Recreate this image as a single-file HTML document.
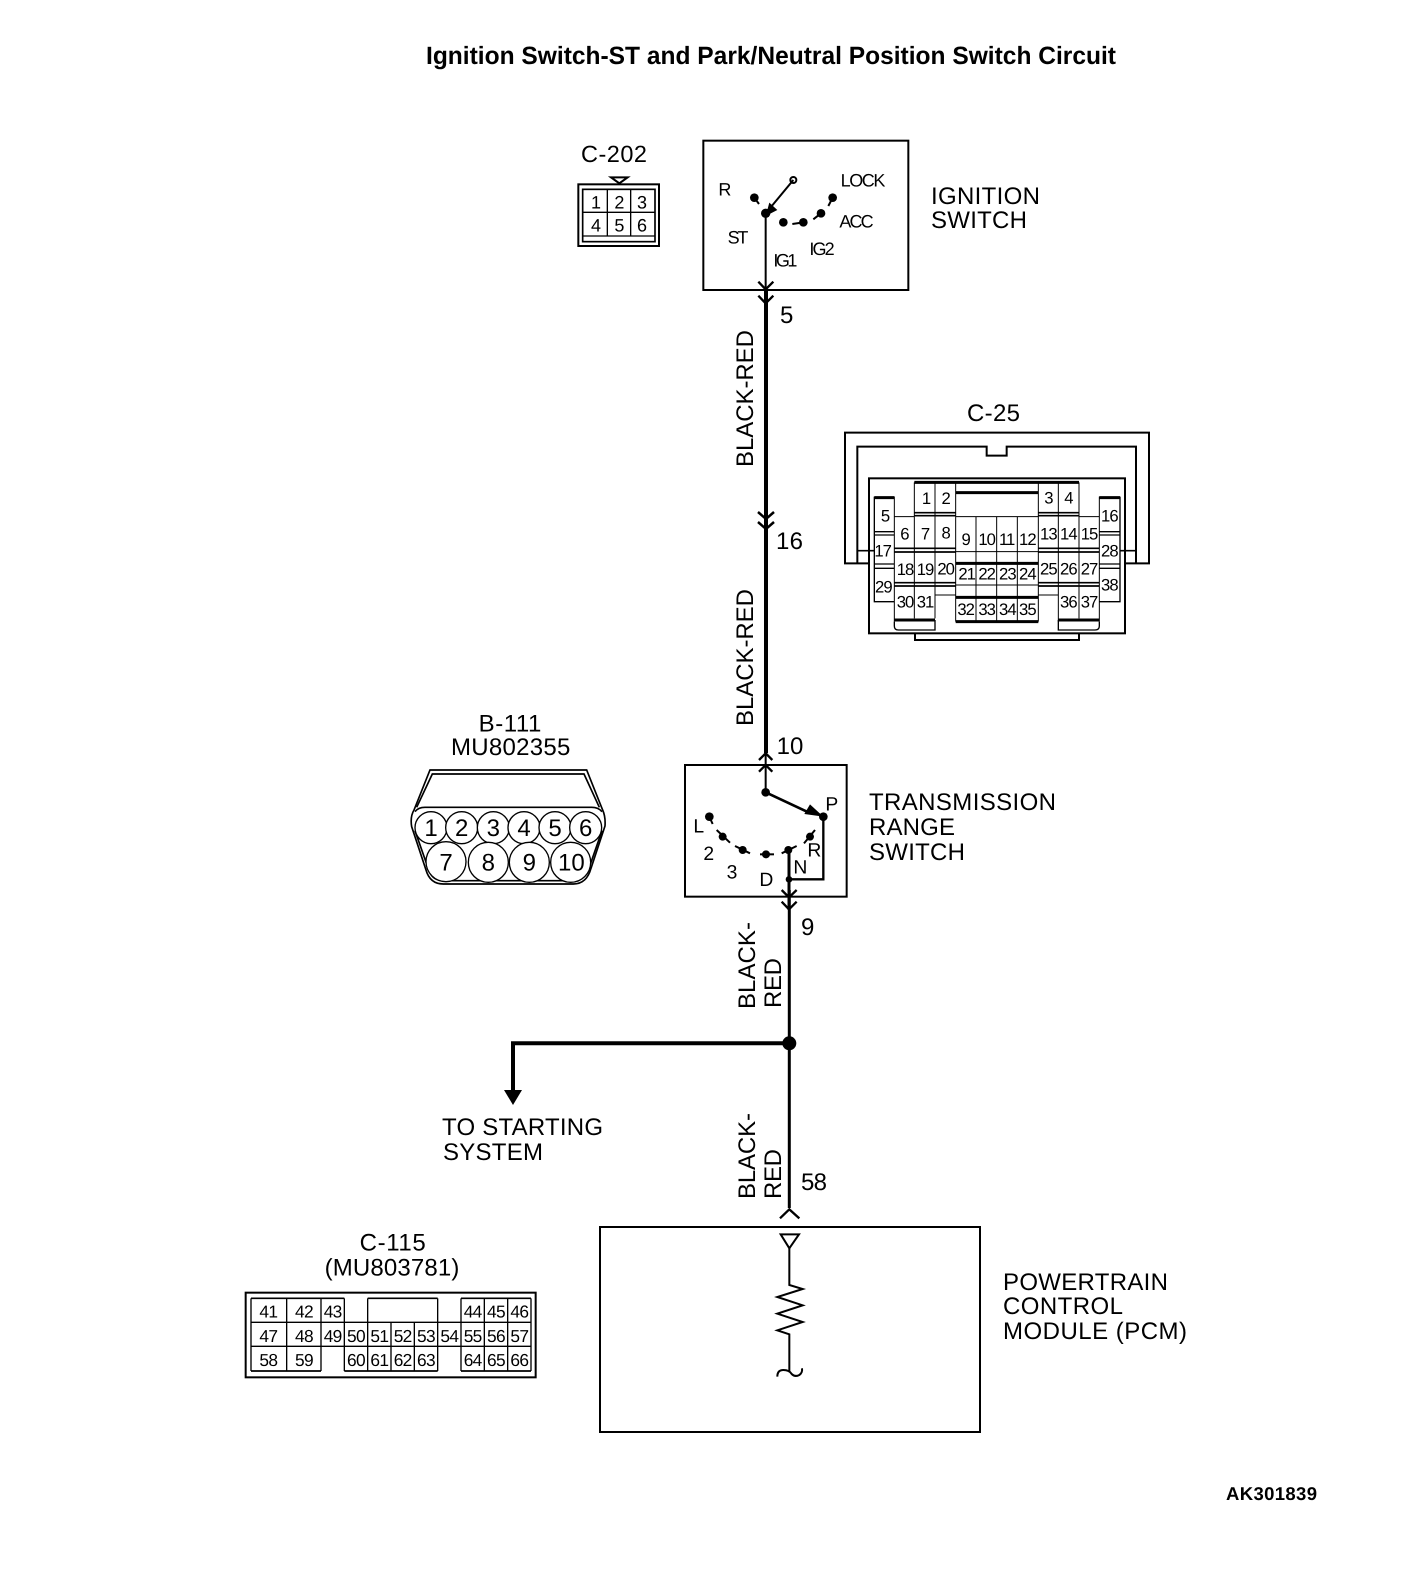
<!DOCTYPE html>
<html>
<head>
<meta charset="utf-8">
<style>
html,body{margin:0;padding:0;background:#fff;}
svg{display:block;}
text{font-family:"Liberation Sans",sans-serif;fill:#000;stroke:none;text-rendering:geometricPrecision;}
.s{fill:none;stroke:#000;}
.c25 text{font-size:50px;letter-spacing:-3px;text-anchor:middle;}
.c115 text{font-size:52px;letter-spacing:-2px;text-anchor:middle;}
.b111 text{font-size:72px;text-anchor:middle;}
</style>
</head>
<body>
<svg width="1408" height="1586" viewBox="0 0 1408 1586" xmlns="http://www.w3.org/2000/svg">
<rect width="1408" height="1586" fill="#fff"/>

<text x="426" y="64" font-size="25" font-weight="bold" textLength="690" lengthAdjust="spacingAndGlyphs">Ignition Switch-ST and Park/Neutral Position Switch Circuit</text>
<text x="1226" y="1500" font-size="18.5" font-weight="bold" textLength="91">AK301839</text>

<!-- main wires -->
<g class="s">
<path d="M766,290V753" stroke-width="4"/>
<path d="M758,512L766,519L774,512M758,522L766,529L774,522" stroke-width="2.5"/>
<path d="M789.3,890V1208" stroke-width="3"/>
<path d="M789.3,1043.3H513V1092" stroke-width="4"/>
</g>
<circle cx="789.3" cy="1043.3" r="7"/>
<polygon points="504,1090 522,1090 513,1105"/>

<text x="780" y="323" font-size="24">5</text>
<text x="776" y="549" font-size="24" textLength="27">16</text>
<text x="801" y="935" font-size="24">9</text>
<text x="801" y="1190" font-size="24" textLength="26">58</text>

<text transform="translate(753,467) rotate(-90)" font-size="24" textLength="137">BLACK-RED</text>
<text transform="translate(753,726) rotate(-90)" font-size="24" textLength="137">BLACK-RED</text>
<text transform="translate(755,1009) rotate(-90)" font-size="24" textLength="87">BLACK-</text>
<text transform="translate(781,1008) rotate(-90)" font-size="24" textLength="50">RED</text>
<text transform="translate(755,1199) rotate(-90)" font-size="24" textLength="86">BLACK-</text>
<text transform="translate(781,1199) rotate(-90)" font-size="24" textLength="50">RED</text>

<text x="442" y="1135" font-size="24" textLength="161">TO STARTING</text>
<text x="443" y="1160" font-size="24" textLength="100">SYSTEM</text>

<text x="931" y="204" font-size="24" textLength="109">IGNITION</text>
<text x="931" y="228" font-size="24" textLength="96">SWITCH</text>

<text x="869" y="810" font-size="24" textLength="187">TRANSMISSION</text>
<text x="869" y="835" font-size="24" textLength="86">RANGE</text>
<text x="869" y="860" font-size="24" textLength="96">SWITCH</text>

<text x="1003" y="1290" font-size="24" textLength="165">POWERTRAIN</text>
<text x="1003" y="1314" font-size="24" textLength="120">CONTROL</text>
<text x="1003" y="1339" font-size="24" textLength="184">MODULE (PCM)</text>

<text x="967" y="421" font-size="24" textLength="53">C-25</text>
<text x="581" y="162" font-size="23.5" textLength="66">C-202</text>

<!-- ignition switch + C-202 -->
<g transform="translate(560,130) scale(0.33333)">
<rect x="430" y="32" width="615" height="448" class="s" stroke-width="6"/>
<path class="s" stroke-width="6" d="M617,250V520"/>
<path class="s" stroke-width="7" d="M595,455L617,478L640,455M595,497L617,520L640,497"/>
<path class="s" stroke-width="6" d="M700,150L617,250"/>
<polygon points="617,258 628,218 652,240"/>
<circle cx="617" cy="250" r="14"/>
<circle cx="700" cy="150" r="9" class="s" stroke-width="6"/>
<circle cx="583" cy="203" r="13"/>
<path class="s" stroke-width="6" d="M583,203L597,222"/>
<circle cx="818" cy="203" r="13"/>
<path class="s" stroke-width="6" d="M818,203L805,228"/>
<circle cx="783" cy="250" r="13"/>
<path class="s" stroke-width="6" d="M783,250L760,268"/>
<circle cx="730" cy="277" r="13"/>
<path class="s" stroke-width="6" d="M730,277L697,282"/>
<circle cx="670" cy="277" r="13"/>
<text x="475" y="196" font-size="54" textLength="37">R</text>
<text x="842" y="170" font-size="54" textLength="134">LOCK</text>
<text x="838" y="293" font-size="54" textLength="103">ACC</text>
<text x="503" y="340" font-size="54" textLength="62">ST</text>
<text x="640" y="410" font-size="54" textLength="72">IG1</text>
<text x="748" y="375" font-size="54" textLength="76">IG2</text>

<rect x="55" y="163" width="242" height="185" class="s" stroke-width="6"/>
<rect x="68" y="178" width="217" height="157" class="s" stroke-width="5"/>
<path class="s" stroke-width="4" d="M68,318H285M68,247H285M142,178V318M212,178V318"/>
<polygon points="153,142 203,142 178,160" class="s" stroke-width="6"/>
<g font-size="54" text-anchor="middle">
<text x="108" y="235">1</text><text x="178" y="235">2</text><text x="246" y="235">3</text>
<text x="108" y="304">4</text><text x="178" y="304">5</text><text x="246" y="304">6</text>
</g>
</g>

<!-- C-25 connector -->
<g class="c25" transform="translate(830,400) scale(0.33333)">
<g class="s">
<path stroke-width="6" d="M117,490H45V98H957V490H885"/>
<path stroke-width="6" d="M82,490V140H470V167H530V140H918V490"/>
<path stroke-width="5" d="M82,452H133M870,452H918"/>
<rect x="117" y="235" width="768" height="465" stroke-width="6"/>
<path stroke-width="6" d="M255,700V720H747V700"/>
<path stroke-width="9" d="M133,293H193M808,293H870M253,247H747M377,278H625M377,490H625M377,592H625M377,665H625M193,660H315M685,660H808"/>
<path stroke-width="4" d="M133,290V605H193M870,290V605H808"/>
<path stroke-width="4" d="M133,395H193M133,405H193M808,395H870M808,405H870"/>
<path stroke-width="4" d="M133,492H193M133,505H193M808,492H870M808,505H870"/>
<path stroke-width="3" d="M193,290V665M253,247V655M315,247V655M808,290V665M747,247V655M685,247V665M625,247V665M377,247V665M438,350V665M500,350V665M562,350V665"/>
<path stroke-width="3" d="M193,350H253M747,350H808M377,350H625M377,455H625M377,555H625M315,585H377M625,585H685"/>
<path stroke-width="5" d="M253,338H377M253,347H377M625,338H747M625,347H747"/>
<path stroke-width="5" d="M193,445H377M193,456H377M625,445H808M625,456H808"/>
<path stroke-width="5" d="M193,548H377M193,558H377M625,548H808M625,558H808"/>
<path stroke-width="4" d="M193,665V678Q193,690 205,690H315V660M685,660V690H795Q808,690 808,678V665"/>
</g>
<text x="288" y="312">1</text><text x="347" y="312">2</text><text x="655" y="310">3</text><text x="715" y="310">4</text>
<text x="165" y="365">5</text><text x="223" y="418">6</text><text x="285" y="418">7</text><text x="347" y="415">8</text>
<text x="407" y="435">9</text><text x="470" y="435">10</text><text x="530" y="435">11</text><text x="592" y="435">12</text>
<text x="655" y="418">13</text><text x="715" y="418">14</text><text x="777" y="418">15</text><text x="838" y="365">16</text>
<text x="158" y="470">17</text><text x="838" y="470">28</text>
<text x="225" y="525">18</text><text x="285" y="525">19</text><text x="347" y="523">20</text>
<text x="410" y="538">21</text><text x="470" y="538">22</text><text x="532" y="538">23</text><text x="592" y="538">24</text>
<text x="655" y="523">25</text><text x="715" y="523">26</text><text x="777" y="523">27</text>
<text x="160" y="578">29</text><text x="838" y="572">38</text>
<text x="225" y="622">30</text><text x="285" y="622">31</text>
<text x="407" y="645">32</text><text x="470" y="645">33</text><text x="532" y="645">34</text><text x="592" y="645">35</text>
<text x="715" y="622">36</text><text x="777" y="622">37</text>
</g>

<!-- B-111 + range switch -->
<g transform="translate(400,700) scale(0.33333)">
<text x="330" y="95" font-size="72" text-anchor="middle" textLength="188">B-111</text>
<text x="332" y="165" font-size="72" text-anchor="middle" textLength="358">MU802355</text>
<g class="b111">
<path class="s" stroke-width="5" d="M90,210H560L608,330Q617,350 615,378L573,505Q560,552 520,552H130Q90,552 78,510L35,380Q30,350 42,330Z"/>
<path class="s" stroke-width="5" d="M50,322L97,222H552L598,322M45,335Q55,322 75,322H575Q595,322 606,335M45,392L88,515Q100,542 130,542H520Q550,542 565,510L606,392"/>
<g fill="#fff" stroke="#000" stroke-width="4">
<circle cx="93" cy="383" r="48"/><circle cx="185" cy="383" r="48"/><circle cx="280" cy="383" r="48"/><circle cx="372" cy="383" r="48"/><circle cx="465" cy="383" r="48"/><circle cx="557" cy="383" r="48"/>
<circle cx="138" cy="485" r="60"/><circle cx="265" cy="487" r="60"/><circle cx="388" cy="487" r="60"/><circle cx="512" cy="487" r="60"/>
</g>
<text x="93" y="408">1</text><text x="185" y="408">2</text><text x="280" y="408">3</text><text x="372" y="408">4</text><text x="465" y="408">5</text><text x="557" y="408">6</text>
<text x="138" y="511">7</text><text x="265" y="511">8</text><text x="388" y="511">9</text><text x="514" y="511" textLength="80">10</text>
</g>

<rect x="855" y="195" width="485" height="395" class="s" stroke-width="6"/>
<path class="s" stroke-width="6" d="M1097,160V277"/>
<path class="s" stroke-width="7" d="M1077,180L1097,160L1117,180M1077,215L1097,195L1117,215"/>
<text x="1130" y="162" font-size="72" textLength="80">10</text>
<path class="s" stroke-width="8" d="M1097,277L1225,337"/>
<polygon points="1270,350 1213,342 1230,313"/>
<circle cx="1097" cy="277" r="13"/>
<circle cx="1270" cy="350" r="13"/>
<path class="s" stroke-width="7" d="M1270,350V538H1167"/>
<path class="s" stroke-width="9" d="M1167,450V630"/>
<path class="s" stroke-width="7" d="M1145,570L1167,592L1190,570M1145,605L1167,628L1190,605"/>
<circle cx="1167" cy="538" r="10"/>
<circle cx="928" cy="350" r="13"/>
<path class="s" stroke-width="6" d="M928,350L938,372"/>
<circle cx="968" cy="410" r="12"/>
<path class="s" stroke-width="6" d="M950,390L990,428"/>
<circle cx="1028" cy="450" r="12"/>
<path class="s" stroke-width="6" d="M1005,438L1050,460"/>
<circle cx="1098" cy="463" r="12"/>
<path class="s" stroke-width="6" d="M1080,463H1122"/>
<circle cx="1165" cy="450" r="12"/>
<path class="s" stroke-width="6" d="M1145,460L1190,438"/>
<circle cx="1230" cy="410" r="12"/>
<path class="s" stroke-width="6" d="M1212,430L1245,390"/>
<text x="1276" y="332" font-size="58">P</text>
<text x="880" y="398" font-size="58">L</text>
<text x="910" y="480" font-size="58">2</text>
<text x="980" y="535" font-size="58">3</text>
<text x="1078" y="558" font-size="58">D</text>
<text x="1180" y="520" font-size="58">N</text>
<text x="1222" y="470" font-size="58">R</text>
</g>

<!-- C-115 -->
<g class="c115" transform="translate(230,1210) scale(0.33333)">
<text x="488" y="122" style="font-size:72px;letter-spacing:0" textLength="198">C-115</text>
<text x="486" y="196" style="font-size:72px;letter-spacing:0" textLength="404">(MU803781)</text>
<g class="s">
<rect x="47" y="248" width="870" height="254" stroke-width="6"/>
<path stroke-width="5" d="M63,265H343M413,265H623M693,265H903M63,483H273M343,483H623M693,483H903"/>
<path stroke-width="4" d="M63,265V483M903,265V483M63,337H903M63,409H903"/>
<path stroke-width="4" d="M170,265V483M273,265V483M343,265V483M413,265V409M483,337V483M553,337V483M623,265V483M693,265V483M763,265V483M833,265V483M413,409V483"/>
</g>
<text x="115" y="323">41</text><text x="222" y="323">42</text><text x="308" y="323">43</text><text x="728" y="323">44</text><text x="798" y="323">45</text><text x="868" y="323">46</text>
<text x="115" y="396">47</text><text x="222" y="396">48</text><text x="308" y="396">49</text><text x="378" y="396">50</text><text x="448" y="396">51</text><text x="518" y="396">52</text><text x="588" y="396">53</text><text x="658" y="396">54</text><text x="728" y="396">55</text><text x="798" y="396">56</text><text x="868" y="396">57</text>
<text x="115" y="468">58</text><text x="222" y="468">59</text><text x="378" y="468">60</text><text x="448" y="468">61</text><text x="518" y="468">62</text><text x="588" y="468">63</text><text x="728" y="468">64</text><text x="798" y="468">65</text><text x="868" y="468">66</text>
</g>

<!-- PCM -->
<rect x="600" y="1227" width="380" height="205" class="s" stroke-width="2"/>
<g transform="translate(700,1150) scale(0.33333)">
<path class="s" stroke-width="7" d="M240,205L268,178L298,205"/>
<polygon points="242,253 297,253 268,295" class="s" stroke-width="6"/>
<path class="s" stroke-width="6" d="M268,295V405L308,417L232,441L308,466L232,491L308,516L232,541L268,553V665"/>
<path class="s" stroke-width="6" d="M232,680Q232,660 250,660Q268,660 275,672Q285,682 298,675Q308,668 306,655"/>
</g>
</svg>
</body>
</html>
